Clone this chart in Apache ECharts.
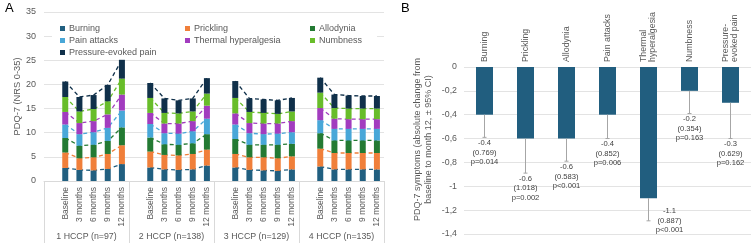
<!DOCTYPE html>
<html>
<head>
<meta charset="utf-8">
<script src="https://cdn.jsdelivr.net/npm/echarts@6/dist/echarts.min.js"></script>
<style>
html, body { margin: 0; padding: 0; background: #fff; }
#chart { width: 754px; height: 245px; }
</style>
</head>
<body>
<div id="chart"></div>
<script>
// panel A: stacked PDQ-7 items per visit, 4 groups of 5 visits
const groups = ['1 HCCP (n=97)', '2 HCCP (n=138)', '3 HCCP (n=129)', '4 HCCP (n=135)'];
const visits = ['Baseline', '3 months', '6 months', '9 months', '12 months'];
const symptoms = ['Burning', 'Prickling', 'Allodynia', 'Pain attacks', 'Thermal hyperalgesia', 'Numbness', 'Pressure-evoked pain'];
const colors = ['#215f80', '#f07f3a', '#237a33', '#48a7d8', '#a23cbf', '#68bd2a', '#10304a'];

const burning     = [2.7, 2.3, 2.2, 2.5, 3.5,  2.8, 2.4, 2.3, 2.4, 3.2,  2.8, 2.3, 2.2, 2.1, 2.4,  3.0, 2.4, 2.4, 2.4, 2.4];
const prickling   = [3.2, 2.4, 2.7, 3.1, 3.9,  3.3, 3.0, 3.0, 3.2, 3.3,  2.8, 2.6, 2.7, 2.6, 2.7,  3.7, 3.4, 3.4, 3.4, 3.4];
const allodynia   = [3.0, 2.6, 2.6, 2.7, 3.7,  2.9, 2.2, 2.2, 2.2, 3.2,  3.1, 2.6, 2.6, 2.8, 2.6,  3.2, 2.6, 2.6, 2.6, 2.6];
const painAttacks = [2.8, 2.4, 2.6, 2.7, 3.5,  2.8, 2.3, 2.3, 2.5, 3.2,  3.0, 2.4, 2.2, 2.3, 2.4,  2.7, 2.4, 2.4, 2.4, 2.4];
const thermal     = [2.6, 2.3, 2.3, 2.8, 3.3,  2.3, 2.0, 2.1, 2.1, 2.7,  2.3, 2.1, 2.2, 2.1, 2.3,  2.5, 2.1, 2.0, 2.0, 2.0];
const numbness    = [3.1, 2.4, 2.5, 2.7, 3.3,  3.1, 2.2, 2.1, 2.0, 2.5,  3.2, 2.3, 2.2, 2.0, 2.0,  3.2, 2.2, 2.2, 2.2, 2.2];
const pressure    = [3.2, 3.0, 2.9, 3.4, 3.9,  3.1, 3.0, 2.7, 2.7, 3.2,  3.5, 2.8, 2.8, 2.8, 2.8,  3.1, 2.8, 2.7, 2.6, 2.6];
const seriesA = [burning, prickling, allodynia, painAttacks, thermal, numbness, pressure];

// panel B: change baseline -> month 12
const itemsB = ['Burning', 'Prickling', 'Allodynia', 'Pain attacks', 'Thermal\nhyperalgesia', 'Numbness', 'Pressure-\nevoked pain'];
const changeB = [-0.4, -0.6, -0.6, -0.4, -1.1, -0.2, -0.3];
const ciB = ['0.769', '1.018', '0.583', '0.852', '0.887', '0.354', '0.629'];
const pB = ['p=0.014', 'p=0.002', 'p<0.001', 'p=0.006', 'p<0.001', 'p=0.163', 'p=0.162'];
const whiskerB = [-0.59, -0.89, -0.79, -0.6, -1.29, -0.39, -0.6];

const FONT = '"Liberation Sans", Arial, sans-serif';
const GREY = '#595959';

// one empty slot before every group, like the excel sheet
let xCats = [];
groups.forEach(() => {
  xCats.push('');
  visits.forEach(v => xCats.push(v));
});
function toSlots(arr) {
  let out = [];
  for (let g = 0; g < groups.length; g++) {
    out.push(null);
    for (let k = 0; k < visits.length; k++) out.push(arr[g * visits.length + k]);
  }
  return out;
}

let series = [];
symptoms.forEach((name, i) => {
  let d = toSlots(seriesA[i]);
  series.push({
    name: name, type: 'bar', stack: 'bars', xAxisIndex: 0, yAxisIndex: 0,
    barWidth: 6, itemStyle: { color: colors[i] }, data: d
  });
  series.push({
    name: name, type: 'line', stack: 'lines', xAxisIndex: 0, yAxisIndex: 0,
    symbol: 'none', silent: true, z: 1,
    lineStyle: { color: colors[i], width: 1.3, type: [4, 3] },
    data: d
  });
});

series.push({
  type: 'bar', xAxisIndex: 2, yAxisIndex: 1, barWidth: 17,
  itemStyle: { color: '#215e7f' }, data: changeB
});
series.push({
  type: 'custom', xAxisIndex: 2, yAxisIndex: 1, silent: true, z: 3,
  data: changeB.map((v, i) => [i, v, whiskerB[i]]),
  renderItem: function(params, api) {
    let i = params.dataIndex;
    let a = api.coord([api.value(0), api.value(1)]);
    let b = api.coord([api.value(0), api.value(2)]);
    let txt = changeB[i].toFixed(1) + '\n(' + ciB[i] + ')\n' + pB[i];
    // the longest bar has its label beside the whisker
    let side = changeB[i] < -1;
    return {
      type: 'group',
      children: [
        { type: 'line', shape: { x1: a[0], y1: a[1], x2: b[0], y2: b[1] }, style: { stroke: '#a6a6a6', lineWidth: 1 } },
        { type: 'line', shape: { x1: b[0] - 2, y1: b[1], x2: b[0] + 2, y2: b[1] }, style: { stroke: '#a6a6a6', lineWidth: 1 } },
        { type: 'text', style: {
            text: txt, x: side ? b[0] + 21 : b[0], y: side ? b[1] : b[1] + 1,
            align: 'center', verticalAlign: side ? 'middle' : 'top',
            fontSize: 7.6, lineHeight: 9.5, fontFamily: FONT, fill: '#404040'
        } }
      ]
    };
  }
});

let option = {
  animation: false,
  textStyle: { fontFamily: FONT },
  graphic: [
    { type: 'text', left: 5, top: 2, style: { text: 'A', fontSize: 13, fontFamily: FONT, fill: '#000' } },
    { type: 'text', left: 401, top: 2, style: { text: 'B', fontSize: 13, fontFamily: FONT, fill: '#000' } },
    { type: 'rect', z: 1, shape: { x: 52, y: 17, width: 325, height: 41 }, style: { fill: '#fff' } }
  ],
  legend: [
    { data: ['Burning', 'Pain attacks', 'Pressure-evoked pain'], left: 55, top: 19 },
    { data: ['Prickling', 'Thermal hyperalgesia'], left: 180, top: 19 },
    { data: ['Allodynia', 'Numbness'], left: 305, top: 19 }
  ].map(l => Object.assign({
    orient: 'vertical', icon: 'rect', itemWidth: 5, itemHeight: 5, itemGap: 3, z: 5,
    textStyle: { fontSize: 9, color: GREY, fontFamily: FONT, padding: [0, 0, 0, -1] },
    selectedMode: false
  }, l)),
  grid: [
    { left: 44, right: 370, top: 12, bottom: 64 },
    { left: 464, right: 3, top: 67, bottom: 11 }
  ],
  xAxis: [
    {
      gridIndex: 0, type: 'category', data: xCats,
      axisLine: { lineStyle: { color: '#d9d9d9' } },
      axisTick: { show: false },
      axisLabel: { interval: 0, rotate: 90, margin: 6, fontSize: 8.5, color: GREY }
    },
    {
      gridIndex: 0, type: 'category', data: groups, position: 'bottom',
      axisLine: { show: false },
      axisTick: { show: true, interval: 0, length: 62, lineStyle: { color: '#d9d9d9' } },
      axisLabel: { interval: 0, margin: 51, fontSize: 8.8, color: GREY }
    },
    {
      gridIndex: 1, type: 'category', data: itemsB, position: 'top',
      axisLine: { show: false }, axisTick: { show: false },
      axisLabel: { interval: 0, rotate: 90, margin: 5, fontSize: 8.8, color: GREY }
    }
  ],
  yAxis: [
    {
      gridIndex: 0, type: 'value', min: 0, max: 35, interval: 5,
      name: 'PDQ-7 (NRS 0-35)', nameLocation: 'middle', nameGap: 21,
      nameTextStyle: { fontSize: 9.3, color: GREY },
      axisLabel: { fontSize: 9, color: GREY, margin: 8 },
      splitLine: { lineStyle: { color: '#e3e3e3' } }
    },
    {
      gridIndex: 1, type: 'value', min: -1.4, max: 0, interval: 0.2,
      name: 'PDQ-7 symptoms (absolute change from\nbaseline to month 12, \u00b1 95% CI)',
      nameLocation: 'middle', nameGap: 30,
      nameTextStyle: { fontSize: 9, color: GREY, lineHeight: 11, padding: [0, 0, 0, 22] },
      axisLabel: {
        fontSize: 8.8, color: GREY, margin: 7,
        formatter: v => String(Number(v.toFixed(1))).replace('.', ',')
      },
      splitLine: { lineStyle: { color: '#e3e3e3' } }
    }
  ],
  series: series
};

let chart = echarts.init(document.getElementById('chart'));
chart.setOption(option);
</script>
</body>
</html>
